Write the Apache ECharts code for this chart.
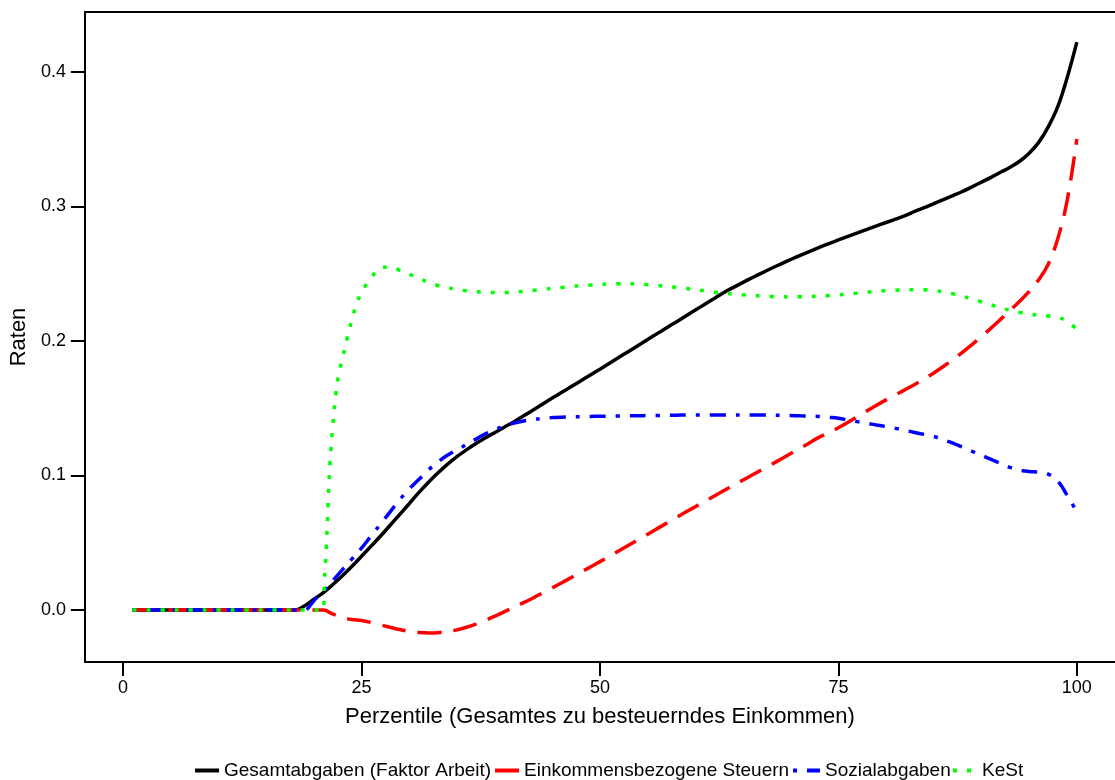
<!DOCTYPE html>
<html>
<head>
<meta charset="utf-8">
<script src="https://cdn.jsdelivr.net/npm/echarts@6/dist/echarts.min.js"></script>
<style>html,body{margin:0;padding:0;background:#fff;}#c{width:1115px;height:780px;}</style>
</head>
<body>
<div id="c"></div>
<script>
// ---- data ----
const xTicks = [0, 25, 50, 75, 100];
const yTicks = [0, 0.1, 0.2, 0.3, 0.4];
const seriesNames = ['Gesamtabgaben (Faktor Arbeit)', 'Einkommensbezogene Steuern', 'Sozialabgaben', 'KeSt'];

const pct = [1,2,3,4,5,6,7,8,9,10,11,12,13,14,15,16,17,18,19,20,
  21,22,23,24,25,26,27,28,29,30,31,32,33,34,35,36,37,38,39,40,
  41,42,43,44,45,46,47,48,49,50,51,52,53,54,55,56,57,58,59,60,
  61,62,63,64,65,66,67,68,69,70,71,72,73,74,75,76,77,78,79,80,
  81,82,83,84,85,86,87,88,89,90,91,92,93,94,95,96,97,98,99,100];

const gesamt = [0,0,0,0,0,0,0,0,0,0,0,0,0,0,0,0,0,0,0.003,0.008,
  0.013,0.019,0.0255,0.0325,0.040,0.0475,0.055,0.063,0.071,0.079,0.0872,0.0948,0.1018,0.1082,0.114,0.119,0.1237,0.128,0.132,0.136,
  0.140,0.1443,0.1487,0.1531,0.1575,0.1618,0.1661,0.1704,0.1747,0.179,0.1834,0.1878,0.1922,0.1966,0.201,0.2054,0.2098,0.2141,0.2185,0.2229,
  0.2273,0.2316,0.236,0.2398,0.2435,0.2471,0.2506,0.254,0.2573,0.2605,0.2636,0.2666,0.2695,0.2723,0.275,0.2777,0.2803,0.2829,0.2855,0.288,
  0.2905,0.293,0.2962,0.299,0.302,0.305,0.308,0.311,0.3145,0.318,0.3215,0.3253,0.329,0.3335,0.3395,0.3475,0.359,0.374,0.396,0.422];

const steuern = [0,0,0,0,0,0,0,0,0,0,0,0,0,0,0,0,0,0,0,0,
  0,-0.003,-0.0055,-0.007,-0.0078,-0.0092,-0.011,-0.0128,-0.0145,-0.0158,-0.0166,-0.017,-0.0168,-0.016,-0.0147,-0.0128,-0.0104,-0.0076,-0.0045,-0.0012,
  0.0022,0.0055,0.009,0.0128,0.0165,0.0203,0.0242,0.0281,0.032,0.036,0.040,0.0441,0.0482,0.0523,0.0564,0.0605,0.0646,0.0687,0.0728,0.0768,
  0.0808,0.0848,0.0888,0.0927,0.0966,0.1005,0.1044,0.1083,0.1123,0.1163,0.1203,0.1244,0.1285,0.1320,0.1355,0.1395,0.1437,0.1480,0.1522,0.1562,
  0.1600,0.1638,0.1676,0.1718,0.1762,0.181,0.186,0.1915,0.1972,0.2032,0.2095,0.216,0.2226,0.2295,0.2368,0.2455,0.257,0.276,0.305,0.350];

const sozial = [0,0,0,0,0,0,0,0,0,0,0,0,0,0,0,0,0,0,0,0.007,
  0.014,0.022,0.030,0.038,0.046,0.055,0.064,0.073,0.082,0.090,0.097,0.104,0.110,0.115,0.119,0.123,0.127,0.131,0.134,0.137,
  0.139,0.1405,0.1415,0.1425,0.143,0.1433,0.1435,0.1437,0.1439,0.144,0.1441,0.1442,0.1443,0.1444,0.1445,0.1446,0.1447,0.1448,0.1449,0.145,
  0.145,0.145,0.145,0.145,0.145,0.145,0.1449,0.1448,0.1447,0.1445,0.1443,0.1441,0.1438,0.1432,0.1425,0.1413,0.140,0.1388,0.1375,0.1363,
  0.135,0.1335,0.132,0.1305,0.129,0.1265,0.124,0.121,0.118,0.115,0.112,0.109,0.106,0.104,0.103,0.1025,0.101,0.096,0.085,0.073];

const kestX = [1,2,3,4,5,6,7,8,9,10,11,12,13,14,15,16,17,18,19,20,21,
  21.1,21.3,21.5,21.7,22,22.3,22.6,23,23.5,24,24.5,25,25.5,26,27,28,29,30,
  31,32,33,34,35,36,37,38,39,40,41,42,43,44,45,46,47,48,49,50,
  51,52,53,54,55,56,57,58,59,60,61,62,63,64,65,66,67,68,69,70,
  71,72,73,74,75,76,77,78,79,80,81,82,83,84,85,86,87,88,89,90,
  91,92,93,94,95,96,97,98,99,100];
const kest = [0,0,0,0,0,0,0,0,0,0,0,0,0,0,0,0,0,0,0,0,0,
  0.02,0.045,0.08,0.11,0.138,0.16,0.175,0.187,0.202,0.216,0.228,0.236,0.242,0.247,0.254,0.255,0.2525,0.2495,
  0.2465,0.2435,0.2412,0.2395,0.2382,0.2372,0.2365,0.2362,0.236,0.236,0.2362,0.2368,0.2375,0.2383,0.239,0.2397,0.2404,0.241,0.2415,0.242,
  0.2423,0.2425,0.2425,0.2423,0.2418,0.2412,0.2405,0.2398,0.239,0.2382,0.2372,0.2362,0.2355,0.2348,0.2342,0.2337,0.2333,0.233,0.2328,0.2327,
  0.2328,0.233,0.2333,0.2337,0.2342,0.2348,0.2355,0.2362,0.2368,0.2373,0.2377,0.238,0.2381,0.238,0.2375,0.2365,0.235,0.2332,0.2312,0.229,
  0.2268,0.2245,0.2228,0.2212,0.22,0.2192,0.2185,0.2175,0.2145,0.2085];

// ---- chart ----
const FONT = "'Liberation Sans', Arial, sans-serif";
function zip(xs, ys) { return xs.map((x, i) => [x, ys[i]]); }

const chart = echarts.init(document.getElementById('c'), null, { renderer: 'canvas' });

function lineSeries(name, xs, ys, color, type) {
  return {
    name: name, type: 'line', data: zip(xs, ys),
    showSymbol: false, symbol: 'none',
    smooth: 0.4,
    lineStyle: { color: color, width: 3.5, type: type, cap: 'butt' },
    itemStyle: { color: color },
    emphasis: { disabled: true },
    animation: false
  };
}

function legendAt(name, left, w) {
  return {
    data: [name], left: left, top: 761, orient: 'horizontal',
    itemWidth: w, itemHeight: 16, padding: 0,
    selectedMode: false,
    itemStyle: { opacity: 0 },
    lineStyle: { width: 4 },
    textStyle: { fontSize: 19, color: '#000', fontFamily: FONT }
  };
}

const option = {
  backgroundColor: '#fff',
  animation: false,
  textStyle: { fontFamily: FONT },
  grid: { left: 84, top: 12, width: 1031, height: 650, containLabel: false },
  legend: [
    legendAt(seriesNames[0], 193, 24),
    legendAt(seriesNames[1], 493, 24),
    legendAt(seriesNames[2], 791, 27),
    legendAt(seriesNames[3], 951, 24)
  ],
  xAxis: [{
    type: 'value', min: -4, max: 104, position: 'bottom',
    name: 'Perzentile (Gesamtes zu besteuerndes Einkommen)',
    nameLocation: 'middle', nameGap: 44,
    nameTextStyle: { fontSize: 22, color: '#000', fontFamily: FONT },
    axisLine: { show: true, onZero: false, lineStyle: { color: '#000', width: 2 } },
    axisTick: { show: true, customValues: xTicks, length: 14, inside: false, lineStyle: { color: '#000', width: 2 } },
    axisLabel: { show: true, customValues: xTicks, fontSize: 18, color: '#000', margin: 17, fontFamily: FONT },
    splitLine: { show: false }
  }, {
    type: 'value', min: -4, max: 104, position: 'top',
    axisLine: { show: true, onZero: false, lineStyle: { color: '#000', width: 2 } },
    axisTick: { show: false }, axisLabel: { show: false }, splitLine: { show: false }
  }],
  yAxis: [{
    type: 'value', min: -0.0386, max: 0.4444, position: 'left',
    name: 'Raten', nameLocation: 'middle', nameGap: 54,
    nameTextStyle: { fontSize: 22, color: '#000', fontFamily: FONT },
    axisLine: { show: true, onZero: false, lineStyle: { color: '#000', width: 2 } },
    axisTick: { show: true, customValues: yTicks, length: 14, inside: false, lineStyle: { color: '#000', width: 2 } },
    axisLabel: { show: true, customValues: yTicks, fontSize: 18, color: '#000', margin: 19, fontFamily: FONT,
      formatter: function (v) { return Number(v).toFixed(1); } },
    splitLine: { show: false }
  }],
  series: [
    lineSeries(seriesNames[0], pct, gesamt, '#000000', 'solid'),
    lineSeries(seriesNames[1], pct, steuern, '#FF0000', [24, 12]),
    lineSeries(seriesNames[2], pct, sozial, '#0000FF', [4, 10, 16, 10]),
    lineSeries(seriesNames[3], kestX, kest, '#00FF00', [4, 10])
  ]
};
chart.setOption(option);
</script>
</body>
</html>
